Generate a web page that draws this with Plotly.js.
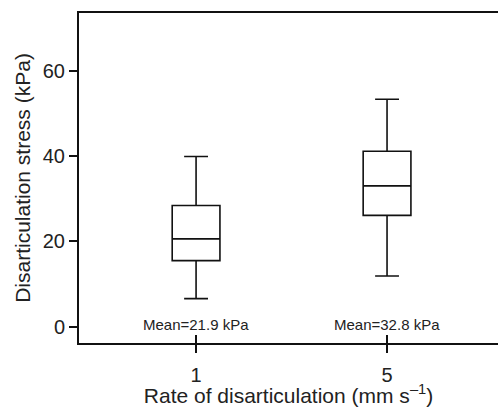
<!DOCTYPE html>
<html><head><meta charset="utf-8">
<script src="https://cdn.plot.ly/plotly-3.0.1.min.js"></script>
<style>html,body{margin:0;padding:0;overflow:hidden;background:#fff}#chart{width:498px;height:407px}</style>
</head><body><div id="chart"></div>
<script>
const categories = ['1', '5'];
const upperFence = [39.9, 53.3];
const q3 = [28.4, 41.1];
const median = [20.6, 33.0];
const q1 = [15.5, 26.1];
const lowerFence = [6.6, 11.9];
const means = [21.9, 32.8];
const yTicks = [0, 20, 40, 60];

const fontFam = '"Liberation Sans", Arial, sans-serif';
const textColor = '#222';

const trace = {
  type: 'box',
  x: categories,
  q1: q1, median: median, q3: q3,
  lowerfence: lowerFence, upperfence: upperFence,
  width: 0.25,
  whiskerwidth: 0.5,
  fillcolor: 'rgba(0,0,0,0)',
  line: {color: '#111', width: 1.6},
  boxpoints: false,
  showlegend: false,
  hoverinfo: 'skip'
};

const yRange = [-3.8, 73.5];
const xRange = [-0.613, 1.581];

const annotations = categories.map((c, i) => ({
  x: i, y: 0.6, xref: 'x2', yref: 'y',
  text: 'Mean=' + means[i].toFixed(1) + ' kPa',
  showarrow: false, yanchor: 'middle', xanchor: 'center',
  font: {family: fontFam, size: 15, color: textColor}
}));

const layout = {
  width: 498, height: 407,
  margin: {l: 79, r: 0, t: 13, b: 64},
  paper_bgcolor: '#fff', plot_bgcolor: '#fff',
  font: {family: fontFam, color: textColor},
  xaxis: {
    type: 'category', range: xRange,
    showline: true, linecolor: '#111', linewidth: 2, mirror: true,
    ticks: 'outside', ticklen: 8, tickwidth: 2, tickcolor: '#111',
    ticklabelstandoff: 5,
    showgrid: false, zeroline: false,
    tickfont: {size: 20, color: textColor},
    title: {text: 'Rate of disarticulation (mm s<sup>–1</sup>)', font: {size: 21, color: textColor}, standoff: 4}
  },
  xaxis2: {
    type: 'linear', range: xRange, overlaying: 'x', anchor: 'y',
    tickvals: [0, 1], showticklabels: false,
    ticks: 'inside', ticklen: 8, tickwidth: 2, tickcolor: '#111',
    showgrid: false, zeroline: false, showline: false
  },
  yaxis: {
    range: yRange, tickvals: yTicks,
    showline: true, linecolor: '#111', linewidth: 2, mirror: false,
    ticks: 'outside', ticklen: 8, tickwidth: 2, tickcolor: '#111',
    showgrid: false, zeroline: false,
    tickfont: {size: 20, color: textColor},
    title: {text: 'Disarticulation stress (kPa)', font: {size: 21, color: textColor}, standoff: 6}
  },
  yaxis2: {
    range: yRange, tickvals: yTicks, overlaying: 'y', anchor: 'x', side: 'left',
    showticklabels: false,
    ticks: 'inside', ticklen: 8, tickwidth: 2, tickcolor: '#111',
    showgrid: false, zeroline: false, showline: false
  },
  annotations: annotations
};

Plotly.newPlot('chart', [trace], layout, {displayModeBar: false, staticPlot: true});
</script></body></html>
